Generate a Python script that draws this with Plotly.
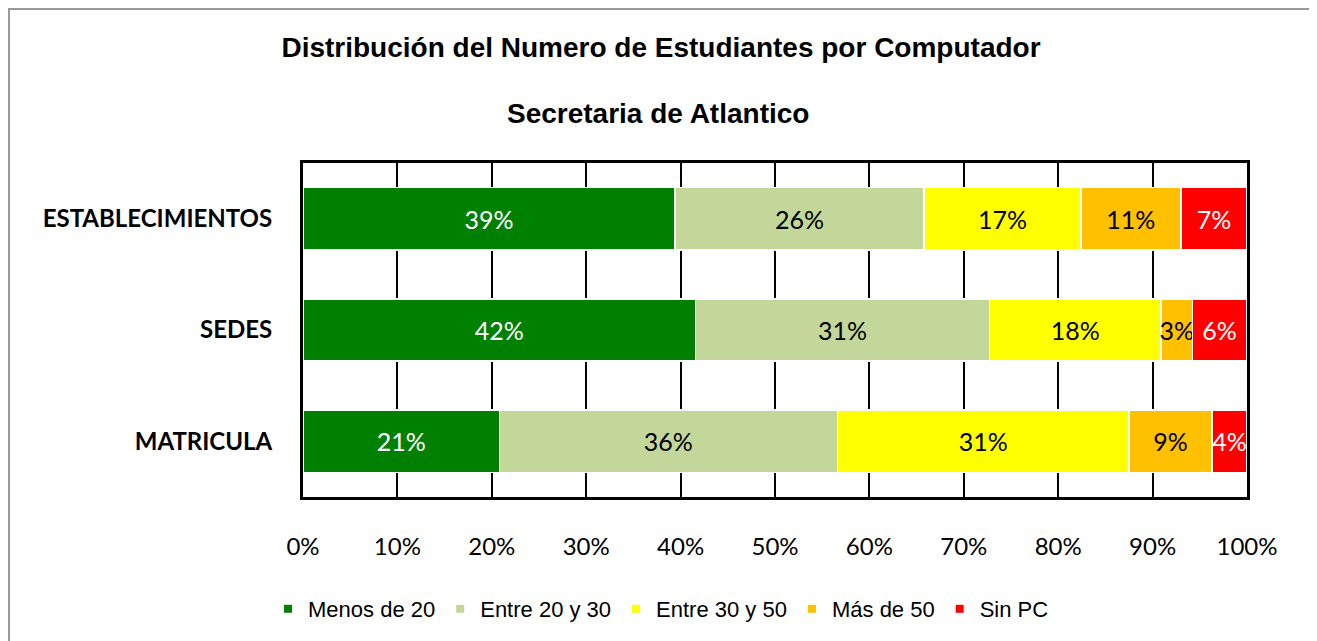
import plotly.graph_objects as go

categories = ["ESTABLECIMIENTOS", "SEDES", "MATRICULA"]
series_names = ["Menos de 20", "Entre 20 y 30", "Entre 30 y 50", "Más de 50", "Sin PC"]
menos_20 = [39.4, 41.6, 20.8]
entre_20_30 = [26.4, 31.1, 35.8]
entre_30_50 = [16.6, 18.2, 30.9]
mas_50 = [10.6, 3.3, 8.8]
sin_pc = [7.0, 5.8, 3.7]
series_values = [menos_20, entre_20_30, entre_30_50, mas_50, sin_pc]
colors = ["#008000", "#C4D79B", "#FFFF00", "#FFC000", "#FF0000"]
text_colors = ["white", "black", "black", "black", "white"]
x_ticks = list(range(0, 101, 10))
x_tick_labels = [f"{v}%" for v in x_ticks]

# page offset of the figure inside the browser window (body margin)
OFF = 8
W, H = 1317, 641
ML = 303 - OFF
MR = W - (1247 - OFF)
MT = 163 - OFF
MB = H - (497 - OFF)
PW, PH = W - ML - MR, H - MT - MB


def px_x(px):
    return (px - OFF - ML) / PW


def px_y(py):
    return (H - MB - (py - OFF)) / PH


fig = go.Figure()
for name, vals, col, tcol in zip(series_names, series_values, colors, text_colors):
    fig.add_trace(go.Bar(
        y=categories, x=vals, name=name, orientation="h",
        marker=dict(color=col, line=dict(color="white", width=1.5)),
        texttemplate="%{x:.0f}%", textposition="inside", insidetextanchor="middle",
        textangle=0, constraintext="none",
        textfont=dict(family="Lato", size=25, color=tcol),
        showlegend=False, hoverinfo="skip",
    ))
for name, col in zip(series_names, colors):
    fig.add_trace(go.Scatter(
        x=[None], y=[None], mode="markers", name=name,
        marker=dict(symbol="square", size=8, color=col),
    ))

fig.update_layout(
    width=W, height=H,
    margin=dict(l=ML, r=MR, t=MT, b=MB, pad=0),
    barmode="stack", bargap=0.44,
    paper_bgcolor="white", plot_bgcolor="white",
    uniformtext=dict(minsize=25, mode="show"),
    title=dict(
        text="Distribución del Numero de Estudiantes por Computador",
        x=(661 - OFF) / W, xanchor="center", y=1 - (47 - OFF) / H, yanchor="middle",
        font=dict(family="Liberation Sans", size=28, color="black", weight="bold"),
    ),
    annotations=[dict(
        text="<b>Secretaria de Atlantico</b>", xref="paper", yref="paper",
        x=px_x(658), y=px_y(113), xanchor="center", yanchor="middle",
        showarrow=False, font=dict(family="Liberation Sans", size=28, color="black"),
    )],
    xaxis=dict(
        range=[0, 100], tickvals=x_ticks, ticktext=x_tick_labels,
        showgrid=True, gridcolor="black", gridwidth=1.7,
        showline=True, linecolor="black", linewidth=3, mirror=True,
        ticks="", ticklabelstandoff=26, zeroline=False,
        tickfont=dict(family="Lato", size=24, color="black"),
        layer="below traces", fixedrange=True,
    ),
    yaxis=dict(
        categoryorder="array", categoryarray=categories, autorange="reversed",
        showline=True, linecolor="black", linewidth=3, mirror=True,
        showgrid=False, ticks="", ticklabelstandoff=23,
        tickfont=dict(family="Lato", size=24, color="black", weight="bold"),
        layer="below traces", fixedrange=True,
    ),
    legend=dict(
        orientation="h", traceorder="normal",
        x=px_x(268), xanchor="left", y=px_y(609), yanchor="middle",
        font=dict(family="Liberation Sans", size=22, color="black"),
        itemwidth=30, tracegroupgap=0, bgcolor="rgba(0,0,0,0)",
    ),
    shapes=[dict(
        type="rect", xref="paper", yref="paper",
        x0=px_x(OFF + 1), x1=px_x(1313), y0=px_y(OFF + 1), y1=px_y(700),
        line=dict(color="#999999", width=2), fillcolor="rgba(0,0,0,0)", layer="below",
    )],
)

fig.write_html("out.html")
